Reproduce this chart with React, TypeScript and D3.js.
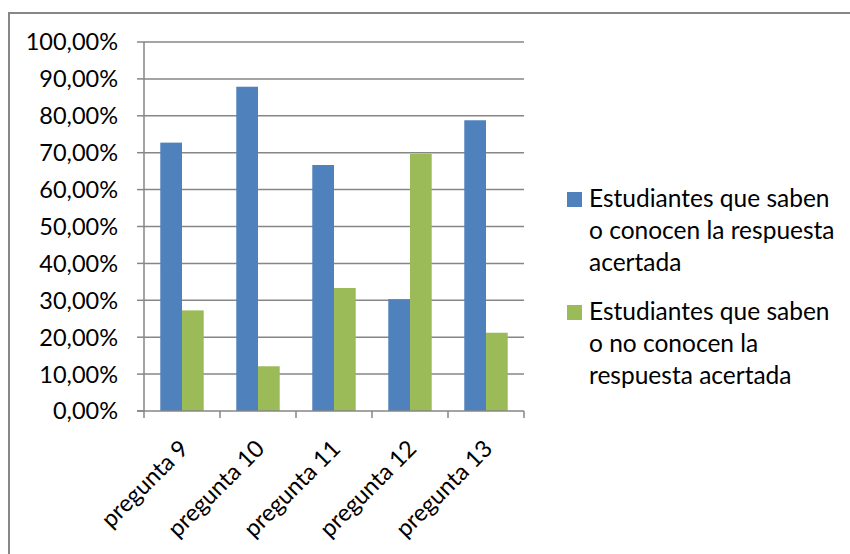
import React, { useEffect, useRef } from 'react';
import * as d3 from 'd3';

const categories = ['pregunta 9', 'pregunta 10', 'pregunta 11', 'pregunta 12', 'pregunta 13'];
const seriesNames = [
  ['Estudiantes que saben', 'o conocen la respuesta', 'acertada'],
  ['Estudiantes que saben', 'o no conocen la', 'respuesta acertada'],
];
const conocen = [72.73, 87.88, 66.67, 30.3, 78.79];
const noConocen = [27.27, 12.12, 33.33, 69.7, 21.21];
const yTicks = [0, 10, 20, 30, 40, 50, 60, 70, 80, 90, 100];
const colors = ['#4f81bd', '#9bbb59'];

const W = 850;
const H = 554;
const FONT = 'Lato, "Liberation Sans", sans-serif';

export default function App() {
  const svgRef = useRef<SVGSVGElement>(null);

  useEffect(() => {
    if (!svgRef.current) return;
    const svg = d3.select(svgRef.current);
    svg.selectAll('*').remove();

    // chart frame (runs off the right and bottom edges)
    svg.append('rect')
      .attr('x', 9).attr('y', 13)
      .attr('width', W + 10).attr('height', H + 10)
      .attr('fill', '#fff')
      .attr('stroke', '#878787').attr('stroke-width', 2);

    const left = 144, right = 524, top = 42, bottom = 411;
    const x = d3.scaleBand<string>().domain(categories).range([left, right]);
    const y = d3.scaleLinear().domain([0, 100]).range([bottom, top]);
    const barW = x.bandwidth() / 3.5;
    const offset = barW * 0.75;

    // gridlines
    svg.append('g').selectAll('line').data(yTicks.slice(1)).enter().append('line')
      .attr('x1', left).attr('x2', right)
      .attr('y1', d => y(d)).attr('y2', d => y(d))
      .attr('stroke', '#868686').attr('stroke-width', 1.5);

    // bars
    const series = [conocen, noConocen];
    series.forEach((vals, si) => {
      svg.append('g').selectAll('rect').data(vals).enter().append('rect')
        .attr('x', (d, i) => (x(categories[i]) as number) + offset + si * barW)
        .attr('y', d => y(d))
        .attr('width', barW)
        .attr('height', d => bottom - y(d))
        .attr('fill', colors[si]);
    });

    // y axis
    svg.append('line')
      .attr('x1', left).attr('x2', left).attr('y1', top).attr('y2', bottom)
      .attr('stroke', '#868686').attr('stroke-width', 1.5);
    svg.append('g').selectAll('line').data(yTicks).enter().append('line')
      .attr('x1', left - 7).attr('x2', left)
      .attr('y1', d => y(d)).attr('y2', d => y(d))
      .attr('stroke', '#868686').attr('stroke-width', 1.5);
    svg.append('g').selectAll('text').data(yTicks).enter().append('text')
      .attr('x', 118).attr('y', d => y(d))
      .attr('dy', '0.36em')
      .attr('text-anchor', 'end')
      .attr('font-family', FONT).attr('font-size', 23.5)
      .attr('fill', '#000')
      .text(d => d3.format('.2f')(d).replace('.', ',') + '%');

    // x axis
    svg.append('line')
      .attr('x1', left - 7).attr('x2', right).attr('y1', bottom).attr('y2', bottom)
      .attr('stroke', '#868686').attr('stroke-width', 1.5);
    const xTicks = categories.map(c => x(c) as number).concat([right]);
    svg.append('g').selectAll('line').data(xTicks).enter().append('line')
      .attr('x1', d => d).attr('x2', d => d)
      .attr('y1', bottom).attr('y2', bottom + 7)
      .attr('stroke', '#868686').attr('stroke-width', 1.5);
    svg.append('g').selectAll('text').data(categories).enter().append('text')
      .attr('transform', d => `translate(${(x(d) as number) + x.bandwidth() / 2 + 8},${bottom + 39}) rotate(-45)`)
      .attr('text-anchor', 'end')
      .attr('font-family', FONT).attr('font-size', 23.5)
      .attr('fill', '#000')
      .text(d => d);

    // legend
    const lg = svg.append('g');
    const entryY = [192, 305];
    seriesNames.forEach((lines, si) => {
      lg.append('rect')
        .attr('x', 567).attr('y', entryY[si])
        .attr('width', 15).attr('height', 15)
        .attr('fill', colors[si]);
      lg.append('g').selectAll('text').data(lines).enter().append('text')
        .attr('x', 589)
        .attr('y', (d, i) => entryY[si] + 15 + i * 32)
        .attr('font-family', FONT).attr('font-size', 24.5)
        .attr('fill', '#000')
        .text(d => d);
    });
  }, []);

  return (
    <svg
      ref={svgRef}
      width={W}
      height={H}
      style={{ position: 'absolute', left: 0, top: 0, display: 'block', background: '#fff' }}
    />
  );
}
